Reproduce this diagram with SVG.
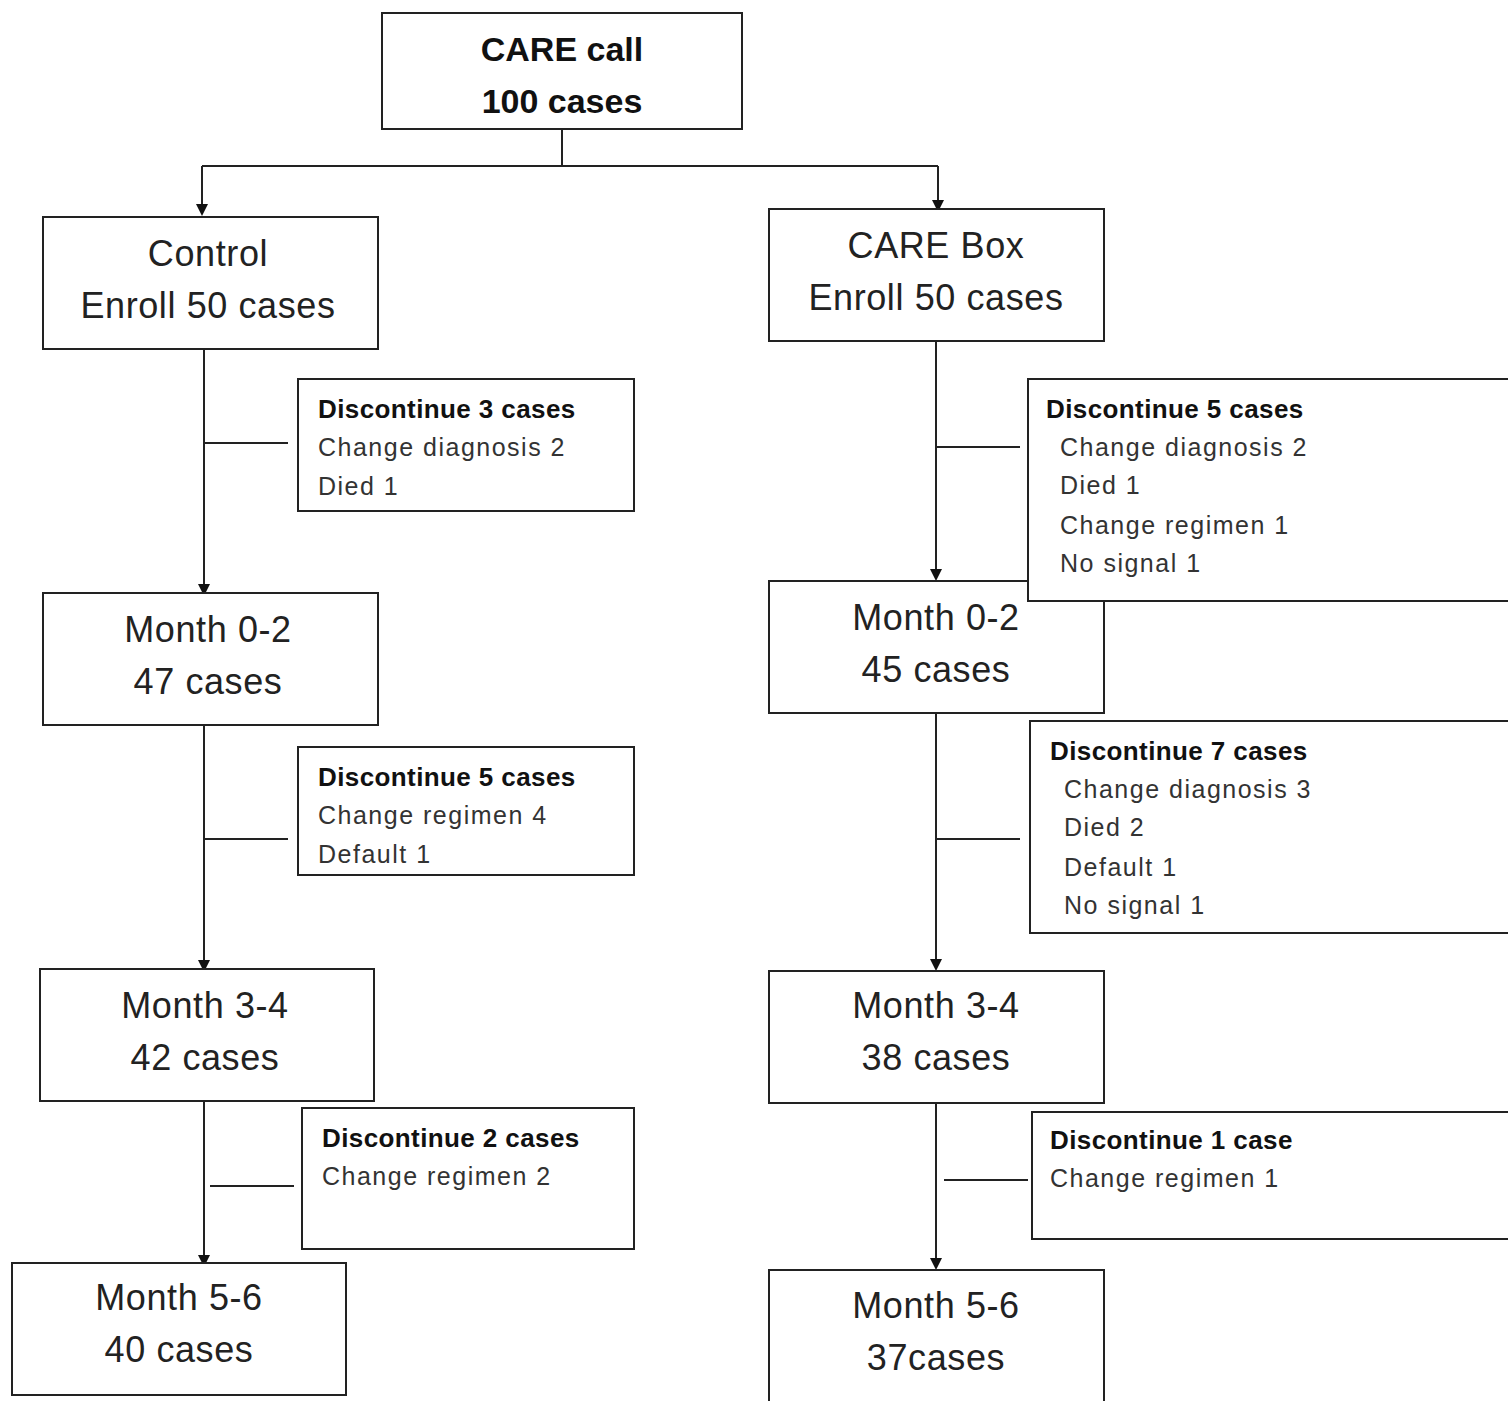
<svg xmlns="http://www.w3.org/2000/svg" width="1508" height="1401" viewBox="0 0 1508 1401">
<style>
.box{fill:#fff;stroke:#222;stroke-width:2}
.ln{stroke:#222;stroke-width:2;fill:none}
.big{font-family:"Liberation Sans",Arial,sans-serif;font-size:36px;letter-spacing:0.6px;fill:#222;text-anchor:middle}
.bigb{font-family:"Liberation Sans",Arial,sans-serif;font-size:34px;font-weight:bold;fill:#111;text-anchor:middle}
.sm{font-family:"Liberation Sans",Arial,sans-serif;font-size:25px;letter-spacing:1.5px;fill:#333}
.smb{font-family:"Liberation Sans",Arial,sans-serif;font-size:26px;letter-spacing:0.4px;font-weight:bold;fill:#111}
</style>
<defs>
<marker id="arr" markerWidth="12" markerHeight="12" refX="10" refY="6" orient="auto" markerUnits="userSpaceOnUse">
<path d="M0,0 L12,6 L0,12 Z" fill="#111"/>
</marker>
</defs>
<g id="connectors">
<path class="ln" d="M562,129 V166"/>
<path class="ln" d="M202,166 H938"/>
<path class="ln" d="M202,166 V214" marker-end="url(#arr)"/>
<path class="ln" d="M938,166 V210" marker-end="url(#arr)"/>
<path class="ln" d="M204,349 V594" marker-end="url(#arr)"/>
<path class="ln" d="M204,443 H288"/>
<path class="ln" d="M936,341 V579" marker-end="url(#arr)"/>
<path class="ln" d="M936,447 H1020"/>
<path class="ln" d="M204,725 V970" marker-end="url(#arr)"/>
<path class="ln" d="M204,839 H288"/>
<path class="ln" d="M936,713 V969" marker-end="url(#arr)"/>
<path class="ln" d="M936,839 H1020"/>
<path class="ln" d="M204,1101 V1265" marker-end="url(#arr)"/>
<path class="ln" d="M210,1186 H294"/>
<path class="ln" d="M936,1103 V1268" marker-end="url(#arr)"/>
<path class="ln" d="M944,1180 H1028"/>
</g>
<g id="care-call"><rect class="box" x="382" y="13" width="360" height="116"/><text class="bigb" x="562" y="61">CARE call</text><text class="bigb" x="562" y="113">100 cases</text></g>
<g id="control"><rect class="box" x="43" y="217" width="335" height="132"/><text class="big" x="208" y="266">Control</text><text class="big" x="208" y="318">Enroll 50 cases</text></g>
<g id="care-box"><rect class="box" x="769" y="209" width="335" height="132"/><text class="big" x="936" y="258">CARE  Box</text><text class="big" x="936" y="310">Enroll 50 cases</text></g>
<g id="c-m02"><rect class="box" x="43" y="593" width="335" height="132"/><text class="big" x="208" y="642">Month 0-2</text><text class="big" x="208" y="694">47 cases</text></g>
<g id="b-m02"><rect class="box" x="769" y="581" width="335" height="132"/><text class="big" x="936" y="630">Month 0-2</text><text class="big" x="936" y="682">45 cases</text></g>
<g id="c-d1"><rect class="box" x="298" y="379" width="336" height="132"/><text class="smb" x="318" y="418">Discontinue 3 cases</text><text class="sm" x="318" y="456">Change diagnosis 2</text><text class="sm" x="318" y="495">Died 1</text></g>
<g id="b-d1"><rect class="box" x="1028" y="379" width="500" height="222"/><text class="smb" x="1046" y="418">Discontinue 5 cases</text><text class="sm" x="1060" y="456">Change diagnosis 2</text><text class="sm" x="1060" y="494">Died 1</text><text class="sm" x="1060" y="534">Change regimen 1</text><text class="sm" x="1060" y="572">No signal 1</text></g>
<g id="c-m34"><rect class="box" x="40" y="969" width="334" height="132"/><text class="big" x="205" y="1018">Month 3-4</text><text class="big" x="205" y="1070">42 cases</text></g>
<g id="b-m34"><rect class="box" x="769" y="971" width="335" height="132"/><text class="big" x="936" y="1018">Month 3-4</text><text class="big" x="936" y="1070">38 cases</text></g>
<g id="c-d2"><rect class="box" x="298" y="747" width="336" height="128"/><text class="smb" x="318" y="786">Discontinue 5 cases</text><text class="sm" x="318" y="824">Change regimen 4</text><text class="sm" x="318" y="863">Default 1</text></g>
<g id="b-d2"><rect class="box" x="1030" y="721" width="500" height="212"/><text class="smb" x="1050" y="760">Discontinue 7 cases</text><text class="sm" x="1064" y="798">Change diagnosis 3</text><text class="sm" x="1064" y="836">Died 2</text><text class="sm" x="1064" y="876">Default 1</text><text class="sm" x="1064" y="914">No signal 1</text></g>
<g id="c-m56"><rect class="box" x="12" y="1263" width="334" height="132"/><text class="big" x="179" y="1310">Month 5-6</text><text class="big" x="179" y="1362">40 cases</text></g>
<g id="b-m56"><rect class="box" x="769" y="1270" width="335" height="150"/><text class="big" x="936" y="1318">Month 5-6</text><text class="big" x="936" y="1370">37cases</text></g>
<g id="c-d3"><rect class="box" x="302" y="1108" width="332" height="141"/><text class="smb" x="322" y="1147">Discontinue 2 cases</text><text class="sm" x="322" y="1185">Change regimen 2</text></g>
<g id="b-d3"><rect class="box" x="1032" y="1112" width="500" height="127"/><text class="smb" x="1050" y="1149">Discontinue 1 case</text><text class="sm" x="1050" y="1187">Change regimen 1</text></g>
</svg>
